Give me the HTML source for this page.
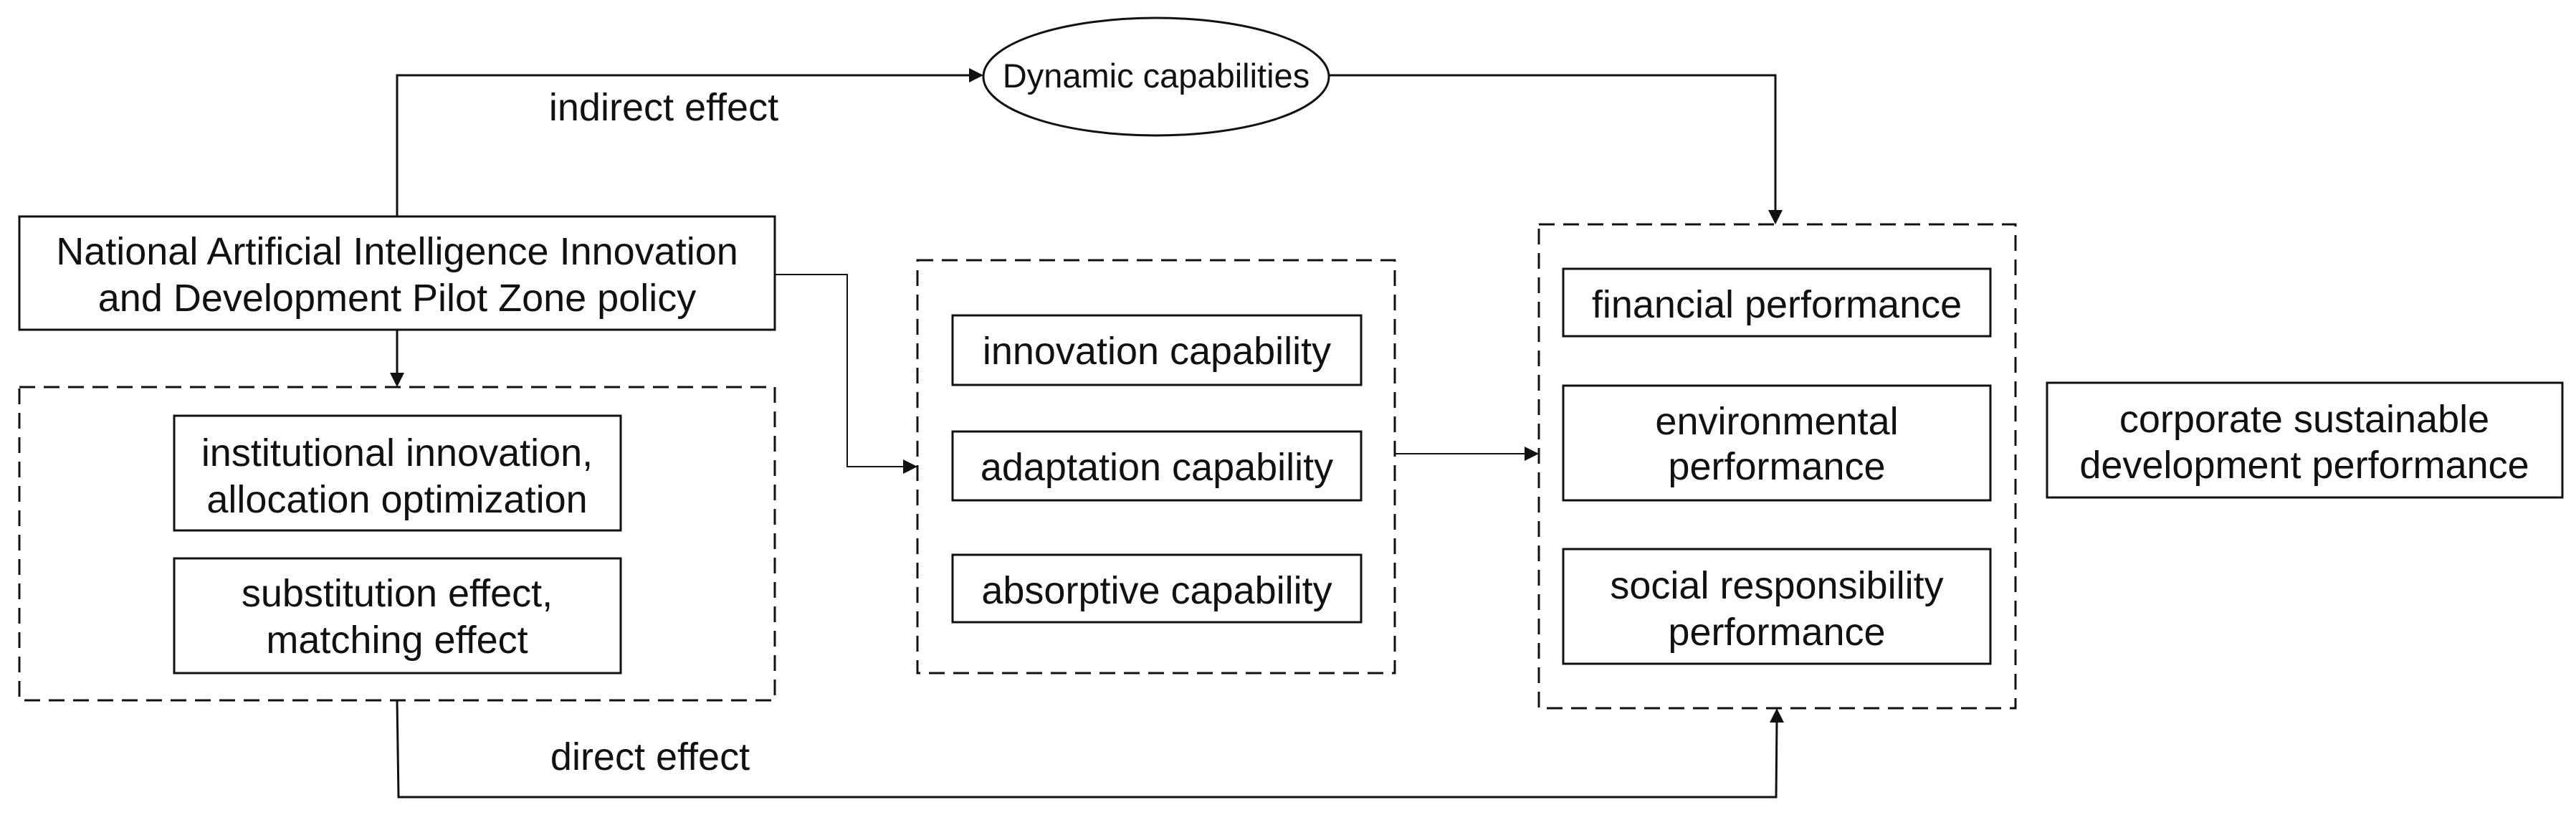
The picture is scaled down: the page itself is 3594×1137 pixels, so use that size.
<!DOCTYPE html>
<html><head><meta charset="utf-8"><style>
html,body{margin:0;padding:0;background:#fff;}
svg{display:block;}
text{font-family:"Liberation Sans",Arial,sans-serif;fill:#111;text-anchor:middle;}
</style></head><body>
<svg width="3594" height="1137" viewBox="0 0 3594 1137" xmlns="http://www.w3.org/2000/svg">
<g fill="none" stroke="#111" stroke-width="3">
<rect x="27" y="302" width="1054" height="158"/>
<rect x="27" y="540" width="1054" height="437" stroke-dasharray="22,12"/>
<rect x="1280" y="363" width="666" height="576" stroke-dasharray="22,12"/>
<rect x="2147" y="313" width="665" height="675" stroke-dasharray="22,12"/>
<rect x="243" y="580" width="623" height="160"/>
<rect x="243" y="779" width="623" height="160"/>
<rect x="1329" y="440" width="570" height="97"/>
<rect x="1329" y="602" width="570" height="96"/>
<rect x="1329" y="774" width="570" height="94"/>
<rect x="2181" y="375" width="596" height="94"/>
<rect x="2181" y="538" width="596" height="160"/>
<rect x="2181" y="766" width="596" height="160"/>
<rect x="2856" y="534" width="719" height="160"/>
<ellipse cx="1613" cy="107" rx="241" ry="82"/>
<polyline points="554,302 554,105 1356,105"/>
<polyline points="1854,105 2477,105 2477,297"/>
<line x1="554" y1="460" x2="554" y2="524"/>
<polyline points="1081,383 1182,383 1182,651 1264,651" stroke-width="2"/>
<line x1="1946" y1="633" x2="2131" y2="633" stroke-width="2"/>
<polyline points="554,977 556,1112 2478,1112 2479,1004"/>
</g>
<g fill="#111">
<polygon points="1372,105 1352,95 1352,115"/>
<polygon points="2477,313 2467,293 2487,293"/>
<polygon points="554,540 544,520 564,520"/>
<polygon points="1280,651 1260,641 1260,661"/>
<polygon points="2147,633 2127,623 2127,643"/>
<polygon points="2479,988 2469,1008 2489,1008"/>
</g>
<g font-size="54">
<text x="554" y="369">National Artificial Intelligence Innovation</text>
<text x="554" y="434">and Development Pilot Zone policy</text>
<text x="926" y="168">indirect effect</text>
<text x="907" y="1074">direct effect</text>
<text x="554" y="650">institutional innovation,</text>
<text x="554" y="715">allocation optimization</text>
<text x="554" y="846">substitution effect,</text>
<text x="554" y="911">matching effect</text>
<text x="1614" y="508">innovation capability</text>
<text x="1614" y="670">adaptation capability</text>
<text x="1614" y="842">absorptive capability</text>
<text x="2479" y="443">financial performance</text>
<text x="2479" y="606">environmental</text>
<text x="2479" y="669">performance</text>
<text x="2479" y="835">social responsibility</text>
<text x="2479" y="900">performance</text>
<text x="3215" y="603">corporate sustainable</text>
<text x="3215" y="667">development performance</text>
</g>
<text x="1613" y="122" font-size="47">Dynamic capabilities</text>
</svg>
</body></html>
